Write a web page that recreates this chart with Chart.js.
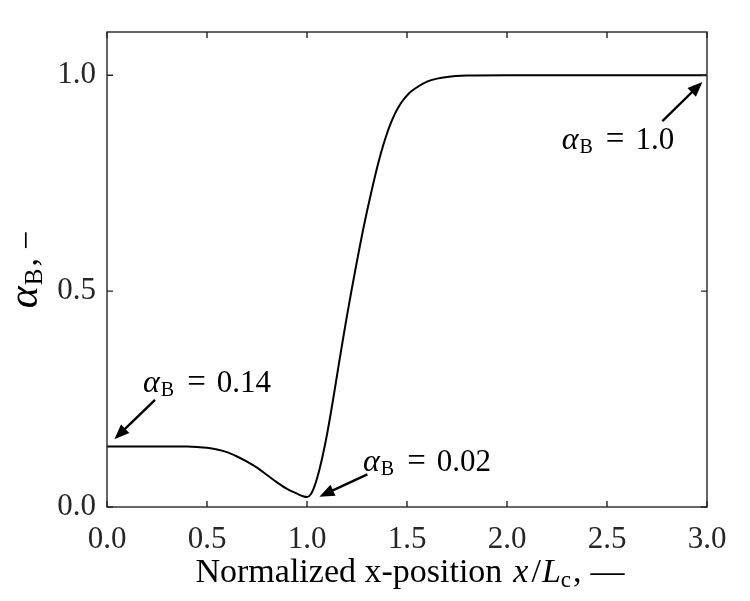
<!DOCTYPE html>
<html><head><meta charset="utf-8">
<script src="https://cdn.jsdelivr.net/npm/chart.js@4.4.0/dist/chart.umd.min.js"></script>
<style>html,body{margin:0;padding:0;background:#fff;} #wrap{width:750px;height:601px;}</style>
</head><body><div id="wrap"><canvas id="c" width="750" height="601"></canvas></div>
<script>
// ---- data ----
const xPos   = [0, 0.1, 0.2, 0.3, 0.4, 0.45, 0.5, 0.55, 0.6, 0.65, 0.7, 0.75, 0.8, 0.85, 0.9, 0.95, 0.98, 1.0, 1.02, 1.035, 1.05, 1.065, 1.08, 1.1, 1.12, 1.14, 1.16, 1.18, 1.2, 1.22, 1.24, 1.26, 1.28, 1.3, 1.32, 1.34, 1.36, 1.38, 1.4, 1.42, 1.44, 1.46, 1.48, 1.5, 1.52, 1.55, 1.6, 1.65, 1.7, 1.8, 2.0, 2.5, 3.0];
const alphaB = [0.14, 0.14, 0.14, 0.14, 0.14, 0.139, 0.137, 0.133, 0.127, 0.117, 0.105, 0.091, 0.074, 0.057, 0.042, 0.031, 0.025, 0.023, 0.030, 0.045, 0.066, 0.092, 0.122, 0.168, 0.220, 0.276, 0.333, 0.389, 0.443, 0.495, 0.545, 0.594, 0.641, 0.685, 0.726, 0.766, 0.803, 0.836, 0.865, 0.890, 0.911, 0.928, 0.942, 0.953, 0.962, 0.972, 0.985, 0.992, 0.996, 0.999, 1.0, 1.0, 1.0];
const xTicks = [0, 0.5, 1.0, 1.5, 2.0, 2.5, 3.0];
const xTickLabels = ['0.0', '0.5', '1.0', '1.5', '2.0', '2.5', '3.0'];
const yTicks = [0, 0.5, 1.0];
const yTickLabels = ['0.0', '0.5', '1.0'];
const annoValues = ['0.14', '0.02', '1.0'];

const SERIF = '"Liberation Serif", "Times New Roman", serif';
const TICKCOL = '#262626';

function drawRuns(ctx, x, y, runs, align) {
  let total = 0;
  runs.forEach(r => { ctx.font = r.font; total += (r.pre || 0) + ctx.measureText(r.t).width; });
  let cx = align === 'center' ? x - total / 2 : x;
  runs.forEach(r => {
    ctx.font = r.font;
    cx += (r.pre || 0);
    ctx.fillText(r.t, cx, y + (r.dy || 0));
    cx += ctx.measureText(r.t).width;
  });
}

function arrow(ctx, x1, y1, x2, y2) {
  const ang = Math.atan2(y2 - y1, x2 - x1);
  const L = 15, W = 6;
  const bx = x2 - L * Math.cos(ang), by = y2 - L * Math.sin(ang);
  ctx.beginPath();
  ctx.moveTo(x1, y1);
  ctx.lineTo(bx + 2 * Math.cos(ang), by + 2 * Math.sin(ang));
  ctx.lineWidth = 2.4; ctx.strokeStyle = '#000'; ctx.stroke();
  ctx.beginPath();
  ctx.moveTo(x2, y2);
  ctx.lineTo(bx + W * Math.sin(ang), by - W * Math.cos(ang));
  ctx.lineTo(bx - W * Math.sin(ang), by + W * Math.cos(ang));
  ctx.closePath(); ctx.fillStyle = '#000'; ctx.fill();
}

const annotations = [
  { text: 0, tx: 0.18, ty: 0.267, from: [0.24, 0.248], to: [0.037, 0.157] },
  { text: 1, tx: 1.28, ty: 0.084, from: [1.302, 0.0757], to: [1.062, 0.024] },
  { text: 2, tx: 2.2735, ty: 0.830, from: [2.777, 0.8935], to: [2.977, 0.9845] }
];

const framePlugin = {
  id: 'frame',
  afterDraw(chart) {
    const ctx = chart.ctx, a = chart.chartArea;
    const xs = chart.scales.x, ys = chart.scales.y;
    ctx.save();
    ctx.strokeStyle = TICKCOL; ctx.lineWidth = 1.4;
    ctx.strokeRect(a.left, a.top, a.right - a.left, a.bottom - a.top);
    const tl = 6;
    ctx.beginPath();
    xTicks.forEach(v => {
      const px = xs.getPixelForValue(v);
      ctx.moveTo(px, a.bottom); ctx.lineTo(px, a.bottom - tl);
      ctx.moveTo(px, a.top); ctx.lineTo(px, a.top + tl);
    });
    yTicks.forEach(v => {
      const py = ys.getPixelForValue(v);
      ctx.moveTo(a.left, py); ctx.lineTo(a.left + tl, py);
      ctx.moveTo(a.right, py); ctx.lineTo(a.right - tl, py);
    });
    ctx.stroke();

    // annotations
    ctx.fillStyle = '#000';
    ctx.textBaseline = 'alphabetic'; ctx.textAlign = 'left';
    annotations.forEach(an => {
      const x = xs.getPixelForValue(an.tx), y = ys.getPixelForValue(an.ty);
      drawRuns(ctx, x, y, [
        { t: 'α', font: 'italic 32px ' + SERIF },
        { t: 'B', font: '20px ' + SERIF, dy: 4, pre: 1 },
        { t: '=', font: '33px ' + SERIF, pre: 13 },
        { t: annoValues[an.text], font: '31px ' + SERIF, pre: 11 }
      ], 'left');
      arrow(ctx, xs.getPixelForValue(an.from[0]), ys.getPixelForValue(an.from[1]),
                 xs.getPixelForValue(an.to[0]), ys.getPixelForValue(an.to[1]));
    });

    // x axis title
    const cxT = (a.left + a.right) / 2 + 3;
    drawRuns(ctx, cxT, a.bottom + 75, [
      { t: 'Normalized x-position', font: '34px ' + SERIF },
      { t: 'x', font: 'italic 34px ' + SERIF, pre: 11 },
      { t: '/', font: '34px ' + SERIF, pre: 3 },
      { t: 'L', font: 'italic 34px ' + SERIF, pre: 1 },
      { t: 'c', font: '23px ' + SERIF, dy: 5, pre: 0 },
      { t: ',', font: '34px ' + SERIF, pre: 2 },
      { t: '—', font: '34px ' + SERIF, pre: 9 }
    ], 'center');

    // y axis title (rotated)
    ctx.save();
    ctx.translate(a.left - 70, (a.top + a.bottom) / 2);
    ctx.rotate(-Math.PI / 2);
    drawRuns(ctx, 0, 0, [
      { t: 'α', font: 'italic 42px ' + SERIF },
      { t: 'B', font: '25px ' + SERIF, dy: 5, pre: 1 },
      { t: ',', font: '34px ' + SERIF, pre: 2 },
      { t: '−', font: '34px ' + SERIF, pre: 8 }
    ], 'center');
    ctx.restore();
    ctx.restore();
  }
};

const points = xPos.map((x, i) => ({ x: x, y: alphaB[i] }));

new Chart(document.getElementById('c'), {
  type: 'line',
  data: { datasets: [{ data: points, borderColor: '#000', borderWidth: 2, pointRadius: 0, fill: false, cubicInterpolationMode: 'monotone' }] },
  options: {
    responsive: false, animation: false, devicePixelRatio: 1,
    layout: { padding: { top: 32, right: 43, left: 0, bottom: 0 } },
    plugins: { legend: { display: false }, tooltip: { enabled: false } },
    scales: {
      x: {
        type: 'linear', min: 0, max: 3,
        afterBuildTicks: s => { s.ticks = xTicks.map(v => ({ value: v })); },
        afterFit: s => { s.height = 94; },
        grid: { display: false, drawTicks: false }, border: { display: false },
        ticks: { callback: (v, i) => xTickLabels[i], color: TICKCOL, font: { family: SERIF, size: 31 }, padding: 14, maxRotation: 0, autoSkip: false }
      },
      y: {
        type: 'linear', min: 0, max: 1.1,
        afterBuildTicks: s => { s.ticks = yTicks.map(v => ({ value: v })); },
        afterFit: s => { s.width = 107; },
        grid: { display: false, drawTicks: false }, border: { display: false },
        ticks: { callback: (v, i) => yTickLabels[i], color: TICKCOL, font: { family: SERIF, size: 31 }, padding: 11 }
      }
    }
  },
  plugins: [framePlugin]
});
</script></body></html>
